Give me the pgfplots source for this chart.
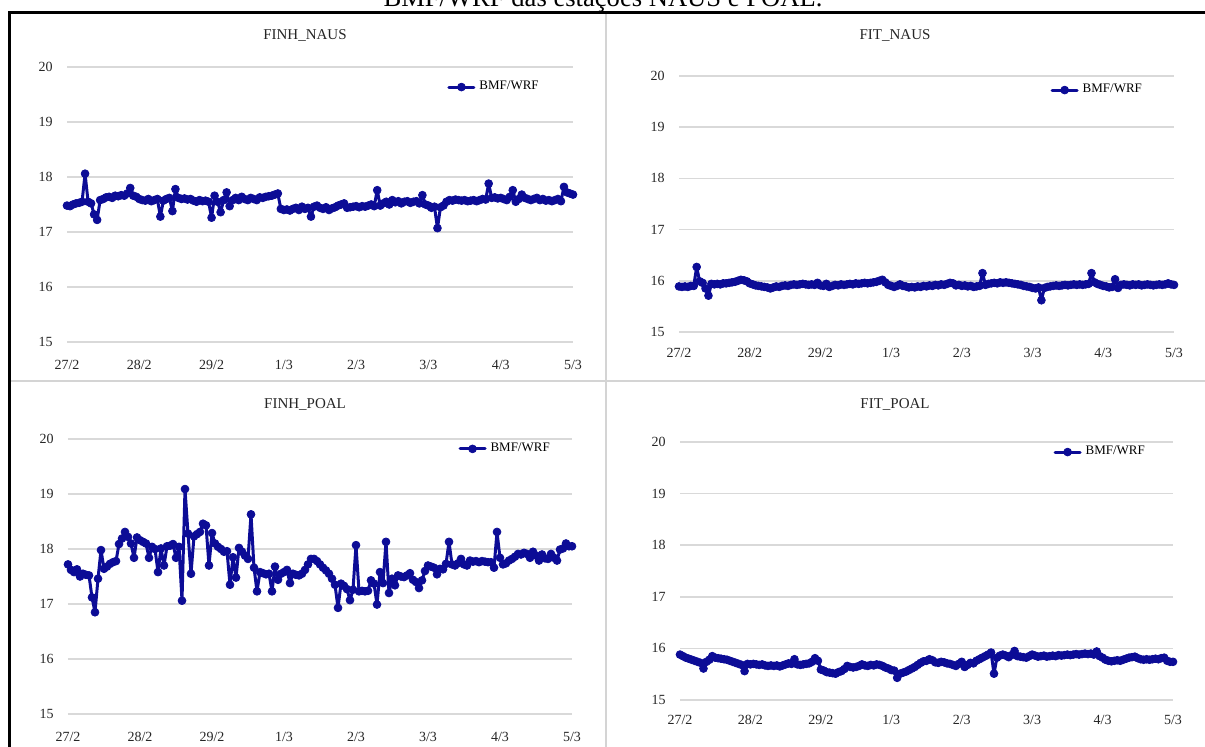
\documentclass[border=0pt]{standalone}
\usepackage{fontspec}
\setmainfont{Liberation Serif}
\usepackage{pgfplots}
\pgfplotsset{compat=1.18}
\usepackage{pgfplotstable}
\definecolor{navyline}{RGB}{12,12,150}
\definecolor{gridgray}{RGB}{217,217,217}
\definecolor{divgray}{RGB}{212,212,212}

\pgfplotstableread{
h a b c d
0 17.48 15.89 17.72 15.88
1 17.47 15.88 17.62 15.85
2 17.50 15.89 17.58 15.82
3 17.52 15.88 17.63 15.80
4 17.53 15.90 17.50 15.78
5 17.55 15.90 17.55 15.76
6 18.06 16.27 17.53 15.74
7 17.55 15.99 17.52 15.72
8 17.52 15.96 17.12 15.61
9 17.32 15.85 16.85 15.74
10 17.22 15.71 17.46 15.78
11 17.58 15.94 17.98 15.85
12 17.60 15.93 17.64 15.82
13 17.63 15.94 17.68 15.81
14 17.64 15.93 17.73 15.80
15 17.62 15.95 17.76 15.79
16 17.66 15.95 17.78 15.78
17 17.65 15.96 18.09 15.76
18 17.67 15.97 18.19 15.74
19 17.66 15.98 18.31 15.72
20 17.70 16.00 18.22 15.70
21 17.80 16.02 18.10 15.68
22 17.66 16.01 17.84 15.56
23 17.64 15.99 18.21 15.70
24 17.60 15.95 18.16 15.69
25 17.58 15.93 18.13 15.70
26 17.57 15.91 18.10 15.69
27 17.60 15.90 17.84 15.68
28 17.56 15.89 18.04 15.69
29 17.58 15.88 18.00 15.67
30 17.60 15.87 17.58 15.66
31 17.28 15.85 18.01 15.67
32 17.57 15.87 17.70 15.66
33 17.60 15.89 18.05 15.67
34 17.62 15.88 18.06 15.65
35 17.38 15.90 18.09 15.67
36 17.78 15.91 17.84 15.69
37 17.62 15.90 18.04 15.71
38 17.60 15.92 17.06 15.70
39 17.61 15.93 19.09 15.79
40 17.59 15.92 18.28 15.69
41 17.60 15.93 17.55 15.68
42 17.57 15.94 18.23 15.69
43 17.55 15.93 18.27 15.70
44 17.58 15.92 18.31 15.71
45 17.56 15.93 18.46 15.74
46 17.57 15.92 18.43 15.81
47 17.55 15.96 17.70 15.76
48 17.26 15.91 18.29 15.59
49 17.66 15.90 18.10 15.57
50 17.55 15.94 18.04 15.54
51 17.36 15.88 18.00 15.53
52 17.58 15.90 17.95 15.52
53 17.72 15.92 17.96 15.51
54 17.47 15.91 17.35 15.54
55 17.58 15.93 17.85 15.56
56 17.62 15.92 17.48 15.60
57 17.58 15.93 18.02 15.66
58 17.64 15.94 17.95 15.64
59 17.60 15.93 17.88 15.63
60 17.58 15.95 17.82 15.64
61 17.62 15.94 18.63 15.66
62 17.60 15.95 17.66 15.69
63 17.58 15.96 17.23 15.67
64 17.63 15.95 17.58 15.66
65 17.62 15.96 17.56 15.68
66 17.64 15.97 17.54 15.67
67 17.65 15.98 17.55 15.69
68 17.66 16.00 17.23 15.68
69 17.68 16.02 17.68 15.66
70 17.70 15.97 17.44 15.63
71 17.42 15.92 17.55 15.61
72 17.40 15.90 17.58 15.58
73 17.41 15.88 17.62 15.57
74 17.39 15.90 17.38 15.43
75 17.42 15.93 17.55 15.51
76 17.44 15.90 17.53 15.53
77 17.40 15.89 17.52 15.55
78 17.46 15.87 17.55 15.58
79 17.42 15.88 17.62 15.61
80 17.44 15.87 17.72 15.64
81 17.28 15.89 17.82 15.68
82 17.46 15.88 17.82 15.72
83 17.48 15.90 17.78 15.75
84 17.44 15.89 17.72 15.76
85 17.42 15.91 17.66 15.79
86 17.45 15.90 17.61 15.77
87 17.40 15.92 17.55 15.73
88 17.43 15.91 17.46 15.72
89 17.45 15.93 17.35 15.74
90 17.48 15.92 16.93 15.73
91 17.50 15.94 17.37 15.71
92 17.52 15.96 17.33 15.70
93 17.44 15.95 17.27 15.68
94 17.45 15.91 17.07 15.66
95 17.46 15.92 17.26 15.70
96 17.47 15.90 18.07 15.74
97 17.45 15.91 17.23 15.64
98 17.47 15.89 17.24 15.68
99 17.46 15.90 17.23 15.72
100 17.48 15.88 17.24 15.71
101 17.50 15.89 17.43 15.76
102 17.47 15.90 17.37 15.79
103 17.76 16.15 16.99 15.82
104 17.48 15.92 17.58 15.85
105 17.52 15.94 17.38 15.88
106 17.55 15.95 18.13 15.92
107 17.50 15.96 17.20 15.51
108 17.58 15.95 17.46 15.82
109 17.54 15.97 17.34 15.86
110 17.56 15.96 17.52 15.88
111 17.52 15.97 17.50 15.86
112 17.55 15.96 17.49 15.83
113 17.56 15.95 17.52 15.87
114 17.53 15.94 17.56 15.95
115 17.55 15.93 17.44 15.85
116 17.56 15.92 17.40 15.84
117 17.52 15.90 17.29 15.83
118 17.67 15.89 17.43 15.82
119 17.50 15.88 17.60 15.85
120 17.48 15.86 17.70 15.88
121 17.44 15.85 17.68 15.86
122 17.46 15.87 17.66 15.84
123 17.07 15.62 17.54 15.85
124 17.45 15.86 17.64 15.86
125 17.48 15.88 17.63 15.84
126 17.55 15.89 17.73 15.85
127 17.58 15.90 18.13 15.86
128 17.57 15.91 17.72 15.85
129 17.59 15.90 17.70 15.87
130 17.58 15.91 17.74 15.86
131 17.57 15.92 17.82 15.87
132 17.58 15.91 17.72 15.88
133 17.56 15.92 17.70 15.87
134 17.57 15.93 17.79 15.88
135 17.58 15.92 17.77 15.89
136 17.56 15.93 17.78 15.88
137 17.58 15.92 17.76 15.89
138 17.60 15.93 17.78 15.90
139 17.59 15.94 17.77 15.89
140 17.88 16.15 17.76 15.90
141 17.62 15.97 17.76 15.88
142 17.63 15.94 17.66 15.94
143 17.61 15.92 18.31 15.85
144 17.62 15.90 17.84 15.82
145 17.60 15.89 17.72 15.78
146 17.58 15.87 17.74 15.76
147 17.64 15.88 17.79 15.75
148 17.76 16.03 17.82 15.76
149 17.55 15.86 17.86 15.77
150 17.60 15.92 17.91 15.76
151 17.68 15.93 17.90 15.78
152 17.62 15.92 17.93 15.80
153 17.60 15.91 17.91 15.82
154 17.58 15.93 17.84 15.83
155 17.60 15.92 17.95 15.84
156 17.62 15.93 17.88 15.81
157 17.58 15.91 17.79 15.79
158 17.60 15.92 17.90 15.78
159 17.57 15.93 17.83 15.79
160 17.58 15.92 17.82 15.78
161 17.56 15.91 17.91 15.79
162 17.58 15.92 17.84 15.80
163 17.60 15.93 17.79 15.79
164 17.56 15.92 17.99 15.81
165 17.82 15.93 18.01 15.82
166 17.72 15.95 18.10 15.76
167 17.70 15.93 18.05 15.74
168 17.68 15.92 18.05 15.74
}\data

\pgfplotsset{
  panel/.style={
    scale only axis, anchor=south west,
    xmin=0, xmax=168, ymin=15, ymax=20,
    axis line style={draw=none}, tick style={draw=none},
    ytick={15,16,17,18,19,20},
    ymajorgrids, grid style={gridgray, line width=0.8pt},
    xtick={0,24,48,72,96,120,144,168},
    xticklabels={27/2,28/2,29/2,1/3,2/3,3/3,4/3,5/3},
    /pgf/number format/assume math mode=true,
    ticklabel style={font=\fontsize{7}{8}\selectfont, text=black!85},
    yticklabel style={xshift=-3.7pt},
    legend cell align=left,
    legend style={draw=none, fill=none, font=\fontsize{6.5}{7}\selectfont, anchor=west, inner sep=0pt},
    legend image code/.code={\draw[mark repeat=2,mark phase=2] plot coordinates {(0cm,0cm)(0.22cm,0cm)(0.44cm,0cm)};},
  },
  ser/.style={navyline, line width=1.5pt, line join=round, line cap=round, mark=*, mark size=1.95pt, mark options={fill=navyline, draw=navyline, line width=0.4pt}},
}

\begin{document}
\begin{tikzpicture}
\useasboundingbox (0,0) rectangle (602.5pt,-373.5pt);
\node[anchor=base, font=\fontsize{13.3}{15}\selectfont, inner sep=0pt] at (301.5pt,-3.5pt) {BMF/WRF das estações NAUS e POAL.};
\draw[divgray, line width=1.2pt] (303pt,-7pt) -- (303pt,-373.5pt);
\draw[divgray, line width=1.2pt] (5pt,-190.5pt) -- (602.5pt,-190.5pt);
\draw[black, line width=1.5pt] (4.5pt,-373.5pt) -- (4.5pt,-6.5pt) -- (602.5pt,-6.5pt);

\node[font=\fontsize{7.5}{8}\selectfont, text=black!85] at (152.5pt,-18pt) {FINH\_NAUS};
\node[font=\fontsize{7.5}{8}\selectfont, text=black!85] at (447.5pt,-18pt) {FIT\_NAUS};
\node[font=\fontsize{7.5}{8}\selectfont, text=black!85] at (152.5pt,-202.5pt) {FINH\_POAL};
\node[font=\fontsize{7.5}{8}\selectfont, text=black!85] at (447.5pt,-202.5pt) {FIT\_POAL};

\begin{axis}[panel, at={(33.5pt,-171pt)}, width=253pt, height=137.5pt,
  xticklabel style={yshift=-5.7pt}, legend style={at={(0.751,0.927)}}]
\addplot[ser] table[x=h, y=a] {\data};
\addlegendentry{BMF/WRF}
\end{axis}

\begin{axis}[panel, at={(339.5pt,-166pt)}, width=247.5pt, height=128pt,
  xticklabel style={yshift=-4.7pt}, legend style={at={(0.75,0.945)}}]
\addplot[ser] table[x=h, y=b] {\data};
\addlegendentry{BMF/WRF}
\end{axis}

\begin{axis}[panel, at={(34pt,-357pt)}, width=252pt, height=137.5pt,
  xticklabel style={yshift=-5.7pt}, legend style={at={(0.774,0.964)}}]
\addplot[ser] table[x=h, y=c] {\data};
\addlegendentry{BMF/WRF}
\end{axis}

\begin{axis}[panel, at={(340pt,-350pt)}, width=246.5pt, height=129pt,
  xticklabel style={yshift=-4.2pt}, legend style={at={(0.757,0.961)}}]
\addplot[ser] table[x=h, y=d] {\data};
\addlegendentry{BMF/WRF}
\end{axis}
\end{tikzpicture}
\end{document}
